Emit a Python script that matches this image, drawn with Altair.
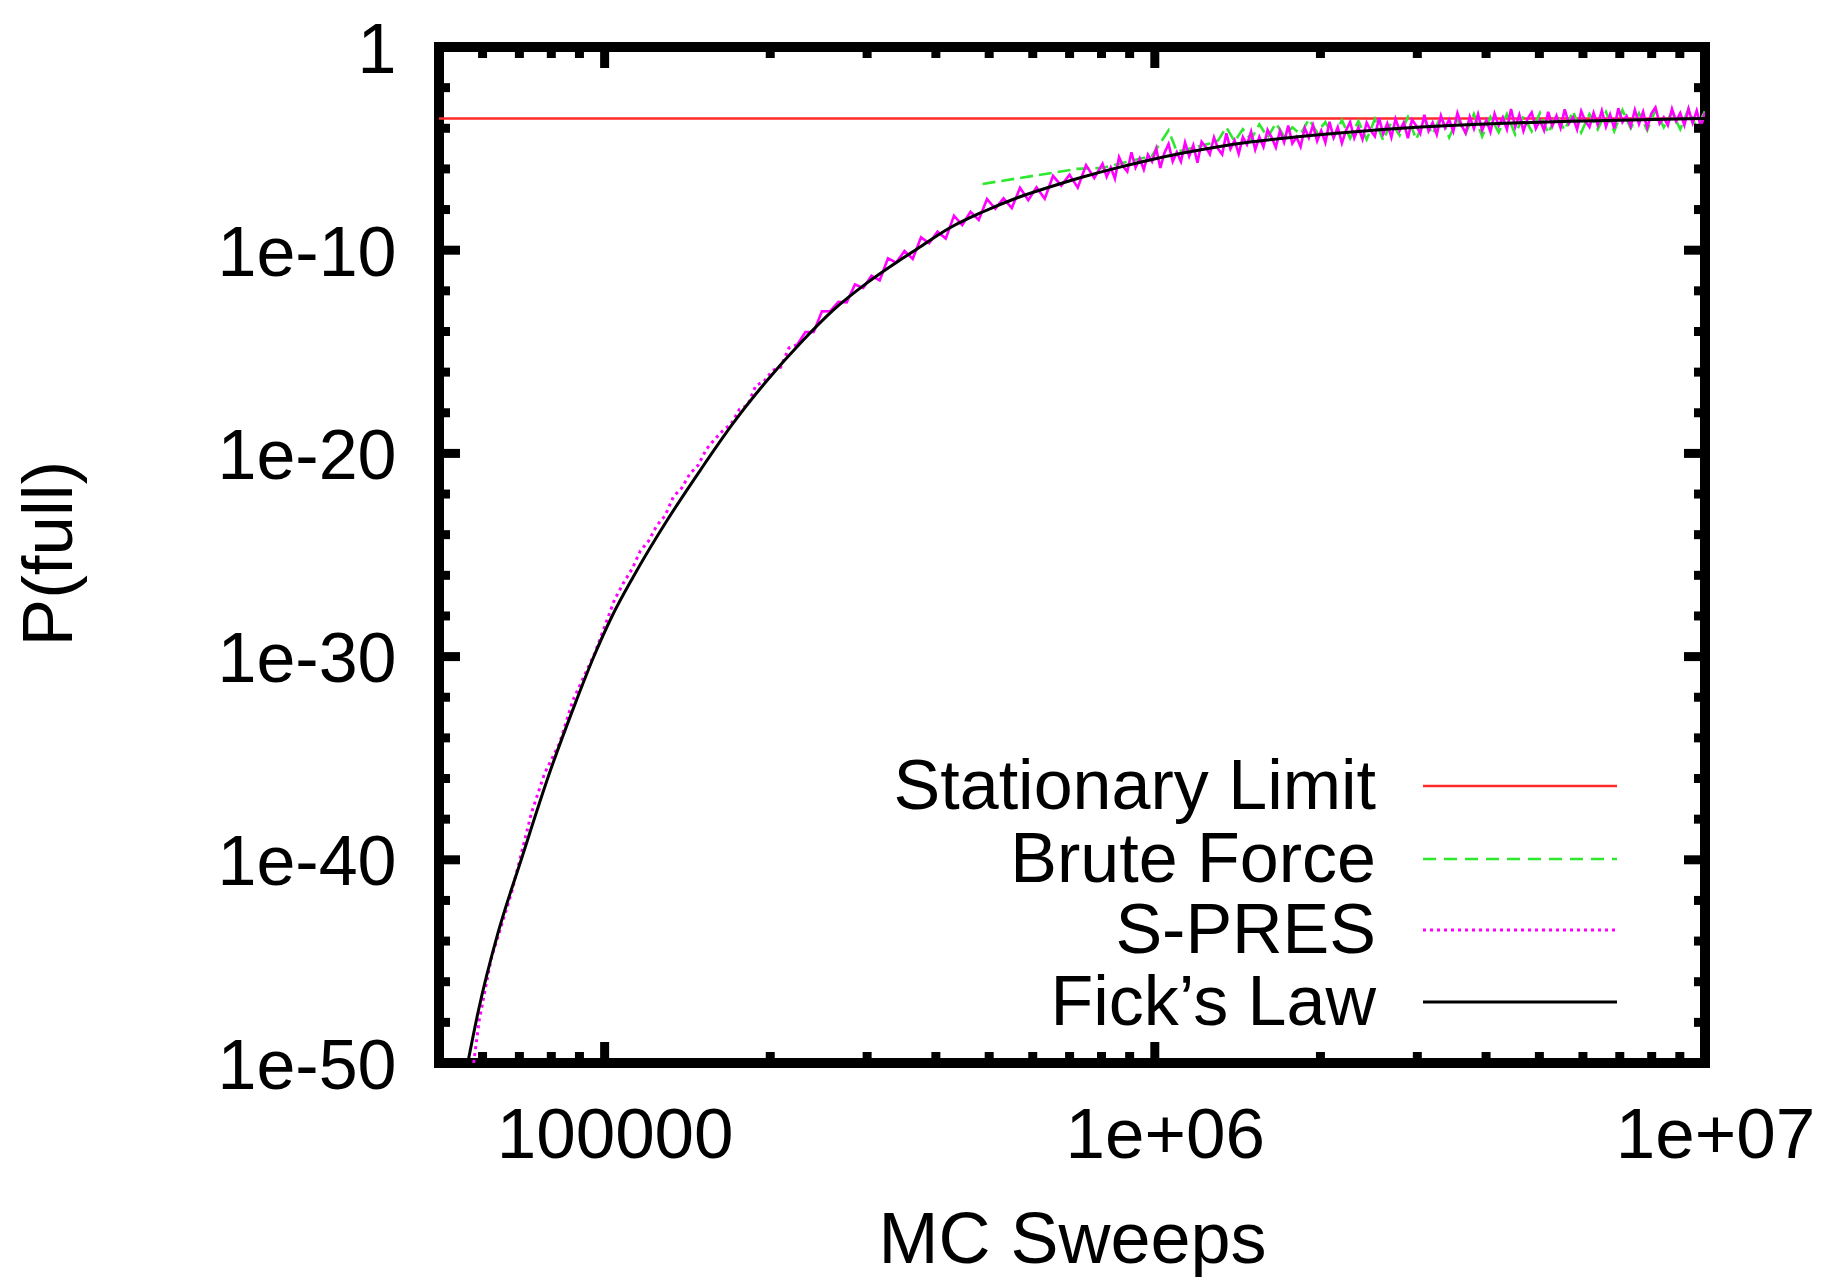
import altair as alt
import pandas as pd

# ---------------- data ----------------
x_domain = [5e4, 1e7]
y_domain = [1e-50, 1.0]

x_tick_values = [1e5, 1e6, 1e7]
x_tick_labels = ["100000", "1e+06", "1e+07"]
x_major_ticks = [1e5, 1e6]
x_minor_ticks = [6e4, 7e4, 8e4, 9e4,
                 2e5, 3e5, 4e5, 5e5, 6e5, 7e5, 8e5, 9e5,
                 2e6, 3e6, 4e6, 5e6, 6e6, 7e6, 8e6, 9e6]

y_tick_values = [1.0, 1e-10, 1e-20, 1e-30, 1e-40, 1e-50]
y_tick_labels = ["1", "1e-10", "1e-20", "1e-30", "1e-40", "1e-50"]
y_major_ticks = [1e-10, 1e-20, 1e-30, 1e-40]
y_minor_ticks = [1e-2, 1e-4, 1e-6, 1e-8, 1e-12, 1e-14, 1e-16, 1e-18,
                 1e-22, 1e-24, 1e-26, 1e-28, 1e-32, 1e-34, 1e-36, 1e-38,
                 1e-42, 1e-44, 1e-46, 1e-48]

x_title = "MC Sweeps"
y_title = "P(full)"
legend_labels = ["Stationary Limit", "Brute Force", "S-PRES", "Fick\u2019s Law"]

stationary_limit = [3.0e-4]

fick_sweeps = [56400, 59000, 64000, 70600, 79400, 88900, 95500, 103000, 112700,
               130000, 149300, 171400, 197700, 227000, 260600, 299900, 344400,
               369800, 423600, 486400, 561000, 644200, 739600, 853100, 979500,
               1.125e6, 1.297e6, 1.489e6, 1.799e6, 2.404e6, 3.304e6, 4.457e6,
               6.053e6, 1.0e7]
fick_log10_p = [-50.0, -47.39, -43.6, -39.96, -35.73, -32.14, -30.02, -28.05, -26.08,
                -23.28, -20.82, -18.50, -16.39, -14.57, -12.94, -11.61, -10.48,
                -9.94, -8.91, -8.12, -7.43, -6.89, -6.40, -5.95, -5.56,
                -5.22, -4.92, -4.68, -4.43, -4.13, -3.89, -3.74,
                -3.64, -3.52]

# S-PRES samples: log10(sweeps), log10(P)
spres_log10_sweeps = [
    4.762, 4.772, 4.794, 4.8305, 4.867, 4.891, 4.918, 4.9425, 4.982, 5.018,
    5.035, 5.050, 5.065, 5.080, 5.095, 5.110, 5.125, 5.140, 5.155, 5.170, 5.185, 5.200,
    5.215, 5.230, 5.245, 5.260, 5.275, 5.290, 5.305, 5.320, 5.335, 5.350, 5.365, 5.380,
    5.395, 5.410, 5.425, 5.440,
    5.455, 5.470, 5.485, 5.500, 5.515, 5.530, 5.545, 5.560, 5.575, 5.590, 5.605, 5.620,
    5.635, 5.650, 5.665, 5.680, 5.695, 5.710, 5.725, 5.740,
    5.755, 5.770, 5.785, 5.800, 5.815, 5.830, 5.845, 5.860, 5.875, 5.890,
    5.905, 5.9125, 5.920, 5.9275, 5.935, 5.9425, 5.950, 5.9575, 5.965, 5.9725,
    5.980, 5.9875, 5.995, 6.0025, 6.010, 6.0175, 6.025, 6.0325, 6.040, 6.0475,
    6.055, 6.0625, 6.070, 6.0775, 6.085, 6.0925, 6.100, 6.1075, 6.115, 6.1225,
    6.130, 6.1375, 6.145, 6.1525, 6.160, 6.1675, 6.175, 6.1825, 6.190, 6.1975,
    6.205, 6.2125, 6.220, 6.2275, 6.235, 6.2425, 6.250, 6.2575, 6.265, 6.2725,
    6.280, 6.2875, 6.295, 6.3025, 6.310, 6.3175, 6.325, 6.3325, 6.340, 6.3475,
    6.355, 6.3625, 6.370, 6.3775, 6.385, 6.3925, 6.400, 6.4075, 6.415, 6.4225,
    6.430, 6.4375, 6.445, 6.4525, 6.460, 6.4675, 6.475, 6.4825, 6.490, 6.4975,
    6.505, 6.5125, 6.520, 6.5275, 6.535, 6.5425, 6.550, 6.5575, 6.565, 6.5725,
    6.580, 6.5875, 6.595, 6.6025, 6.610, 6.6175, 6.625, 6.6325, 6.640, 6.6475,
    6.655, 6.6625, 6.670, 6.6775, 6.685, 6.6925, 6.700, 6.7075, 6.715, 6.7225,
    6.730, 6.7375, 6.745, 6.7525, 6.760, 6.7675, 6.775, 6.7825, 6.790, 6.7975,
    6.805, 6.8125, 6.820, 6.8275, 6.835, 6.8425, 6.850, 6.8575, 6.865, 6.8725,
    6.880, 6.8875, 6.895, 6.9025, 6.910, 6.9175, 6.925, 6.9325, 6.940, 6.9475,
    6.955, 6.9625, 6.970, 6.9775, 6.985, 6.9925, 7.000,
]
spres_log10_p = [
    -50.0, -47.9, -44.85, -41.65, -37.7, -35.74, -34.27, -32.14, -29.84, -27.2,
    -26.34, -25.68, -24.79, -24.31, -23.54, -23.06, -22.13, -21.71, -21.00, -20.58, -19.79, -19.31,
    -18.88, -18.55, -17.83, -17.62, -16.66, -16.45, -15.92, -15.76, -14.81, -14.65, -14.03, -14.02,
    -13.01, -13.00, -12.54, -12.57,
    -11.69, -11.86, -11.26, -11.48, -10.40, -10.61, -10.04, -10.43, -9.37, -9.66, -9.09, -9.43,
    -8.30, -8.76, -8.11, -8.51, -7.48, -7.96, -7.45, -7.93,
    -6.93, -7.54, -6.91, -7.47, -6.34, -6.82, -6.29, -6.92, -5.81, -6.45,
    -5.74, -6.39, -5.93, -6.48, -5.42, -5.88, -6.13, -5.18, -5.93, -5.48,
    -6.03, -5.29, -5.64, -5.00, -5.95, -5.21, -4.77, -5.63, -5.18, -5.64,
    -4.70, -5.37, -4.83, -5.70, -4.66, -4.92, -5.28, -4.45, -5.01, -5.28,
    -4.25, -5.02, -4.59, -5.26, -4.43, -4.80, -4.17, -5.05, -4.43, -4.91,
    -4.08, -4.46, -4.94, -4.12, -4.69, -3.87, -4.75, -4.43, -4.91, -3.99,
    -4.47, -3.85, -4.63, -4.12, -4.70, -3.68, -4.46, -3.95, -4.73, -4.11,
    -3.69, -4.48, -3.96, -4.54, -3.72, -4.11, -4.40, -3.49, -4.27, -3.76,
    -4.45, -3.54, -4.12, -3.71, -4.49, -3.58, -3.87, -4.26, -3.34, -4.13,
    -3.72, -4.31, -3.39, -3.98, -3.57, -4.16, -3.25, -3.85, -4.24, -3.43,
    -4.02, -3.31, -4.10, -3.59, -4.18, -3.28, -3.87, -3.46, -4.05, -3.05,
    -3.94, -3.34, -4.13, -3.53, -3.22, -4.01, -3.60, -4.10, -3.19, -3.89,
    -3.38, -3.98, -3.07, -3.77, -3.46, -4.06, -3.15, -3.65, -3.94, -3.24,
    -3.83, -3.13, -3.92, -3.32, -4.01, -3.01, -3.70, -3.40, -3.90, -3.10,
    -3.79, -3.19, -3.98, -3.28, -2.97, -3.77, -3.46, -3.86, -3.05, -3.65,
    -3.25, -3.85, -3.04, -3.74, -3.13, -3.93, -3.22,
]
# from this log10(sweeps) on, S-PRES samples are so dense that they read as solid spikes
spres_dense_from = 5.35

# Brute force samples: log10(sweeps), log10(P)
brute_log10_sweeps = [
    5.687, 5.858, 5.905, 5.950, 5.995, 6.025, 6.040, 6.070, 6.100, 6.115, 6.130, 6.145,
    6.160, 6.175, 6.190, 6.205, 6.220, 6.235, 6.250, 6.265, 6.280, 6.295, 6.310, 6.325,
    6.340, 6.355, 6.370, 6.385, 6.400,
    6.415, 6.430, 6.445, 6.460, 6.475, 6.490, 6.505, 6.520, 6.535, 6.550, 6.565, 6.580,
    6.595, 6.610, 6.625, 6.640, 6.655, 6.670, 6.685, 6.700, 6.715, 6.730, 6.745, 6.760,
    6.775, 6.790, 6.805, 6.820, 6.835, 6.850, 6.865, 6.880, 6.895, 6.910, 6.925, 6.940,
    6.955, 6.970, 6.985, 7.000,
]
brute_log10_p = [
    -6.74, -6.00, -5.95, -5.65, -5.35, -4.10, -5.15, -4.95, -4.75, -4.60, -3.95, -4.65,
    -4.05, -4.55, -3.80, -4.45, -3.75, -4.40, -3.95, -4.30, -3.55, -4.20, -3.70, -4.45,
    -3.60, -4.50, -3.65, -4.55, -3.55,
    -4.60, -3.70, -4.35, -3.45, -4.55, -3.60, -4.30, -3.40, -4.45, -3.55, -4.25, -3.30,
    -4.40, -3.45, -4.20, -3.30, -4.30, -3.40, -4.15, -3.25, -4.25, -3.35, -4.10, -3.15,
    -4.20, -3.30, -4.05, -3.20, -4.15, -3.10, -4.00, -3.25, -4.10, -3.10, -3.95, -3.20,
    -4.05, -3.05, -4.00, -3.15,
]

# ---------------- styling ----------------
FONT = "Liberation Sans"
W, H = 1266, 1016
RED, GREEN, MAGENTA, BLACK = "#ff2a2a", "#2ee82e", "#ff00ff", "#000000"


def label_expr(values, labels):
    expr = "''"
    for v, l in zip(reversed(values), reversed(labels)):
        expr = f"(abs(log(datum.value) - log({v!r})) < 0.01 ? '{l}' : {expr})"
    return expr


xscale = alt.Scale(type="log", domain=x_domain, nice=False)
yscale = alt.Scale(type="log", domain=y_domain, nice=False)

xaxis = alt.Axis(values=x_tick_values, labelExpr=label_expr(x_tick_values, x_tick_labels),
                 grid=False, ticks=False, tickSize=0, domain=False,
                 labelFont=FONT, labelFontSize=71, labelColor="black", labelLimit=0,
                 labelPadding=38, labelOffset=10, labelFlush=False, labelOverlap=False,
                 title=x_title, titleFont=FONT, titleFontSize=72, titleFontWeight="normal",
                 titleColor="black", titleX=W / 2, titleY=199, titleAlign="center",
                 titleBaseline="alphabetic", titleLimit=0)
yaxis = alt.Axis(values=y_tick_values, labelExpr=label_expr(y_tick_values, y_tick_labels),
                 grid=False, ticks=False, tickSize=0, domain=False,
                 labelFont=FONT, labelFontSize=70, labelColor="black", labelLimit=0,
                 labelPadding=43, labelOffset=4, labelFlush=False, labelOverlap=False,
                 title=y_title, titleFont=FONT, titleFontSize=71, titleFontWeight="normal",
                 titleColor="black", titleAngle=270, titleX=-368, titleY=H / 2 - 2,
                 titleAlign="center", titleBaseline="alphabetic", titleLimit=0)


def X(field):
    return alt.X(f"{field}:Q", scale=xscale, axis=xaxis)


def Y(field):
    return alt.Y(f"{field}:Q", scale=yscale, axis=yaxis)


fick_df = pd.DataFrame({"sweeps": fick_sweeps, "p": [10 ** v for v in fick_log10_p]})
spres_df = pd.DataFrame({"lx": spres_log10_sweeps, "ly": spres_log10_p})
spres_df["sweeps"] = 10 ** spres_df["lx"]
spres_df["p"] = 10 ** spres_df["ly"]
spres_sparse = spres_df[spres_df["lx"] <= spres_dense_from + 0.001]
spres_dense = spres_df[spres_df["lx"] >= spres_dense_from - 0.001]
brute_df = pd.DataFrame({"sweeps": [10 ** v for v in brute_log10_sweeps],
                         "p": [10 ** v for v in brute_log10_p]})
stat_df = pd.DataFrame({"p": stationary_limit})

layers = []

# stationary limit
layers.append(alt.Chart(stat_df).mark_rule(color=RED, strokeWidth=2.5).encode(y=Y("p")))
# brute force
layers.append(alt.Chart(brute_df).mark_line(color=GREEN, strokeWidth=2.6, strokeDash=[13, 6],
                                             clip=True).encode(x=X("sweeps"), y=Y("p")))
# S-PRES: dotted where samples are sparse, dense noisy samples read as solid spikes
layers.append(alt.Chart(spres_sparse).mark_line(color=MAGENTA, strokeWidth=3, strokeDash=[3, 4],
                                                 clip=True).encode(x=X("sweeps"), y=Y("p")))
layers.append(alt.Chart(spres_dense).mark_line(color=MAGENTA, strokeWidth=2.6,
                                                clip=True).encode(x=X("sweeps"), y=Y("p")))
# Fick's law
layers.append(alt.Chart(fick_df).mark_line(color=BLACK, strokeWidth=3, interpolate="monotone",
                                            clip=True).encode(x=X("sweeps"), y=Y("p")))

# inward ticks (gnuplot style), on all four sides
TICK_W = 9
for vals, length in ((x_major_ticks, 21), (x_minor_ticks, 11)):
    d = pd.DataFrame({"v": vals})
    layers.append(alt.Chart(d).mark_rule(color="black", strokeWidth=TICK_W).encode(
        x=X("v"), y=alt.value(H), y2=alt.value(H - length)))
    layers.append(alt.Chart(d).mark_rule(color="black", strokeWidth=TICK_W).encode(
        x=X("v"), y=alt.value(0), y2=alt.value(length)))
for vals, length in ((y_major_ticks, 21), (y_minor_ticks, 11)):
    d = pd.DataFrame({"v": vals})
    layers.append(alt.Chart(d).mark_rule(color="black", strokeWidth=TICK_W).encode(
        y=Y("v"), x=alt.value(0), x2=alt.value(length)))
    layers.append(alt.Chart(d).mark_rule(color="black", strokeWidth=TICK_W).encode(
        y=Y("v"), x=alt.value(W), x2=alt.value(W - length)))

# legend (labels right-aligned, sample line to the right)
legend_rows_y = [739, 812, 883, 955]
legend_styles = [
    dict(color=RED, strokeWidth=2.5),
    dict(color=GREEN, strokeWidth=2.5, strokeDash=[13, 8]),
    dict(color=MAGENTA, strokeWidth=3, strokeDash=[3, 4]),
    dict(color=BLACK, strokeWidth=3),
]
for label, ry, style in zip(legend_labels, legend_rows_y, legend_styles):
    d = pd.DataFrame({"label": [label]})
    layers.append(alt.Chart(d).mark_text(align="right", baseline="alphabetic", font=FONT,
                                         fontSize=70, color="black").encode(
        x=alt.value(937), y=alt.value(ry + 23), text="label:N"))
    layers.append(alt.Chart(d).mark_rule(**style).encode(
        x=alt.value(984), x2=alt.value(1178), y=alt.value(ry)))

chart = alt.layer(*layers).properties(
    width=W, height=H,
    autosize=alt.AutoSizeParams(type="none"),
    padding={"left": 439, "top": 47, "right": 116, "bottom": 214},
    background="white",
).configure_view(stroke="black", strokeWidth=10)

chart.save("out.html", embed_options={"renderer": "svg", "actions": False})
